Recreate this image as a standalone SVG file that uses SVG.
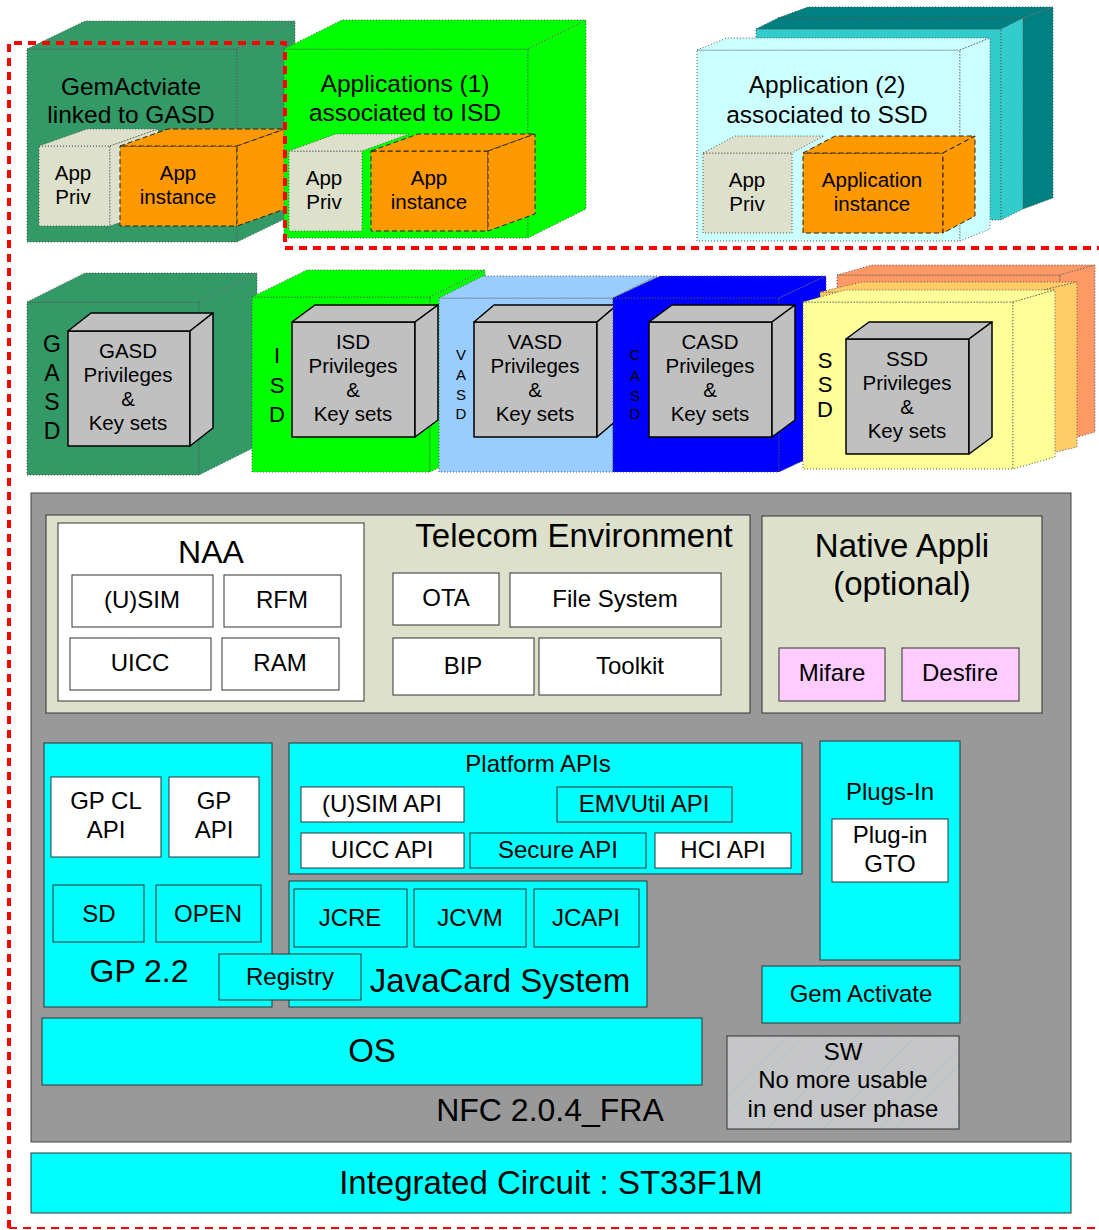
<svg xmlns="http://www.w3.org/2000/svg" width="1099" height="1230" viewBox="0 0 1099 1230">
<style>
text{font-family:"Liberation Sans",Arial,sans-serif;fill:#000;text-anchor:middle}
.dot{stroke:#555;stroke-width:1;stroke-dasharray:1,2}
.dash{stroke:#222;stroke-width:1;stroke-dasharray:5,3}
.key{fill:#C0C0C0;stroke:#000;stroke-width:1.5;stroke-linejoin:round}
.box{stroke:#333;stroke-width:1}
.t20{font-size:20.5px}
.t24{font-size:24px}
.t31{font-size:32px}
.t33{font-size:33px}
.t15{font-size:15px}
.t22{font-size:22px}
</style>
<defs>
<pattern id="hatch" width="10" height="10" patternUnits="userSpaceOnUse" patternTransform="rotate(45)">
<rect width="10" height="10" fill="#C6C6C6"/>
<line x1="0" y1="0" x2="0" y2="10" stroke="#B2C0D6" stroke-width="1.5"/>
</pattern>
</defs>
<rect width="1099" height="1230" fill="#fff"/>

<!-- ===== Top: applications ===== -->
<g id="gem-apps">
<rect x="27" y="49" width="210" height="193" fill="#339966" class="dot"/>
<polygon points="27,49 85,21 295,21 237,49" fill="#339966" class="dot"/>
<polygon points="237,49 295,21 295,214 237,242" fill="#339966" class="dot"/>
<text class="t24" x="131" y="95" style="font-size:24.5px">GemActviate</text>
<text class="t24" x="131" y="123" style="font-size:24.5px">linked to GASD</text>
</g>
<g id="gem-app-priv">
<rect x="39" y="146" width="71" height="80" fill="#DDE0CB" class="dot"/>
<polygon points="39,146 87,129 158,129 110,146" fill="#DDE0CB" class="dot"/>
<polygon points="110,146 158,129 158,209 110,226" fill="#DDE0CB" class="dot"/>
<text class="t20" x="73" y="180">App</text>
<text class="t20" x="73" y="204">Priv</text>
</g>
<g id="gem-app-instance">
<rect x="120" y="146" width="117" height="80" fill="#FF9900" class="dash"/>
<polygon points="120,146 168,129 285,129 237,146" fill="#FF9900" class="dash"/>
<polygon points="237,146 285,129 285,209 237,226" fill="#FF9900" class="dash"/>
<text class="t20" x="178" y="180">App</text>
<text class="t20" x="178" y="204">instance</text>
</g>

<g id="isd-apps">
<rect x="284" y="49" width="244" height="189" fill="#00FF00" class="dot"/>
<polygon points="284,49 342,20 586,20 528,49" fill="#00FF00" class="dot"/>
<polygon points="528,49 586,20 586,209 528,238" fill="#00FF00" class="dot"/>
<text class="t24" x="405" y="92" style="font-size:24.5px">Applications (1)</text>
<text class="t24" x="405" y="121" style="font-size:24.5px">associated to ISD</text>
</g>
<g id="isd-app-priv">
<rect x="289" y="151" width="73" height="80" fill="#DDE0CB" class="dot"/>
<polygon points="289,151 336,134 409,134 362,151" fill="#DDE0CB" class="dot"/>
<text class="t20" x="324" y="185">App</text>
<text class="t20" x="324" y="209">Priv</text>
</g>
<g id="isd-app-instance">
<rect x="371" y="151" width="117" height="80" fill="#FF9900" class="dash"/>
<polygon points="371,151 418,134 535,134 488,151" fill="#FF9900" class="dash"/>
<polygon points="488,151 535,134 535,214 488,231" fill="#FF9900" class="dash"/>
<text class="t20" x="429" y="185">App</text>
<text class="t20" x="429" y="209">instance</text>
</g>

<g id="ssd-apps">
<rect x="778" y="18" width="245" height="191" fill="#008080" class="dot"/>
<polygon points="778,18 808,7 1053,7 1023,18" fill="#008080" class="dot"/>
<polygon points="1023,18 1053,7 1053,198 1023,209" fill="#008080" class="dot"/>
<rect x="756" y="29" width="245" height="191" fill="#33CCCC" class="dot"/>
<polygon points="756,29 778,18 1023,18 1001,29" fill="#008080" class="dot"/>
<polygon points="1001,29 1023,18 1023,209 1001,220" fill="#33CCCC" class="dot"/>
<rect x="697" y="50" width="263" height="191" fill="#CCFFFF" class="dot"/>
<polygon points="697,50 727,38 990,38 960,50" fill="#CCFFFF" class="dot"/>
<polygon points="960,50 990,38 990,229 960,241" fill="#CCFFFF" class="dot"/>
<text class="t24" x="827" y="93" style="font-size:24.5px">Application (2)</text>
<text class="t24" x="827" y="123" style="font-size:24.5px">associated to SSD</text>
</g>
<g id="ssd-app-priv">
<rect x="703" y="153" width="89" height="80" fill="#DDE0CB" class="dot"/>
<polygon points="703,153 735,136 824,136 792,153" fill="#DDE0CB" class="dot"/>
<text class="t20" x="747" y="187">App</text>
<text class="t20" x="747" y="211">Priv</text>
</g>
<g id="ssd-app-instance">
<rect x="803" y="153" width="140" height="80" fill="#FF9900" class="dash"/>
<polygon points="803,153 835,136 975,136 943,153" fill="#FF9900" class="dash"/>
<polygon points="943,153 975,136 975,216 943,233" fill="#FF9900" class="dash"/>
<text class="t20" x="872" y="187">Application</text>
<text class="t20" x="872" y="211">instance</text>
</g>

<!-- ===== Security domains ===== -->
<g id="gasd">
<rect x="27" y="302" width="172" height="173" fill="#339966" class="dot"/>
<polygon points="27,302 85,273 257,273 199,302" fill="#339966" class="dot"/>
<polygon points="199,302 257,273 257,446 199,475" fill="#339966" class="dot"/>
<text class="t22" x="52" y="352" style="font-size:23px">G</text>
<text class="t22" x="52" y="381" style="font-size:23px">A</text>
<text class="t22" x="52" y="410" style="font-size:23px">S</text>
<text class="t22" x="52" y="439" style="font-size:23px">D</text>
</g>
<g id="gasd-keys">
<rect x="68" y="331" width="122" height="115" class="key"/>
<polygon points="68,331 91,313 213,313 190,331" class="key"/>
<polygon points="190,331 213,313 213,428 190,446" class="key"/>
<text class="t20" x="128" y="358">GASD</text>
<text class="t20" x="128" y="382">Privileges</text>
<text class="t20" x="128" y="406">&amp;</text>
<text class="t20" x="128" y="430">Key sets</text>
</g>

<g id="isd">
<rect x="252" y="297" width="178" height="175" fill="#00FF00" class="dot"/>
<polygon points="252,297 307,270 485,270 430,297" fill="#00FF00" class="dot"/>
<polygon points="430,297 485,270 485,445 430,472" fill="#00FF00" class="dot"/>
<text class="t22" x="277" y="363">I</text>
<text class="t22" x="277" y="393">S</text>
<text class="t22" x="277" y="422">D</text>
</g>
<g id="isd-keys">
<rect x="292" y="322" width="123" height="115" class="key"/>
<polygon points="292,322 315,305 438,305 415,322" class="key"/>
<polygon points="415,322 438,305 438,420 415,437" class="key"/>
<text class="t20" x="353" y="349">ISD</text>
<text class="t20" x="353" y="373">Privileges</text>
<text class="t20" x="353" y="397">&amp;</text>
<text class="t20" x="353" y="421">Key sets</text>
</g>

<g id="vasd">
<rect x="439" y="298" width="174" height="174" fill="#99CCFF" class="dot"/>
<polygon points="439,298 483,276 657,276 613,298" fill="#99CCFF" class="dot"/>
<polygon points="613,298 657,276 657,450 613,472" fill="#99CCFF" class="dot"/>
<text class="t15" x="461" y="360">V</text>
<text class="t15" x="461" y="380">A</text>
<text class="t15" x="461" y="400">S</text>
<text class="t15" x="461" y="419">D</text>
</g>
<g id="vasd-keys">
<rect x="474" y="322" width="123" height="115" class="key"/>
<polygon points="474,322 494,305 617,305 597,322" class="key"/>
<polygon points="597,322 617,305 617,420 597,437" class="key"/>
<text class="t20" x="535" y="349">VASD</text>
<text class="t20" x="535" y="373">Privileges</text>
<text class="t20" x="535" y="397">&amp;</text>
<text class="t20" x="535" y="421">Key sets</text>
</g>

<g id="casd">
<rect x="613" y="298" width="166" height="174" fill="#0000FF" class="dot"/>
<polygon points="613,298 660,276 826,276 779,298" fill="#0000FF" class="dot"/>
<polygon points="779,298 826,276 826,450 779,472" fill="#0000FF" class="dot"/>
<text class="t15" x="635" y="360">C</text>
<text class="t15" x="635" y="381">A</text>
<text class="t15" x="635" y="401">S</text>
<text class="t15" x="635" y="419">D</text>
</g>
<g id="casd-keys">
<rect x="649" y="322" width="123" height="115" class="key"/>
<polygon points="649,322 672,305 795,305 772,322" class="key"/>
<polygon points="772,322 795,305 795,420 772,437" class="key"/>
<text class="t20" x="710" y="349">CASD</text>
<text class="t20" x="710" y="373">Privileges</text>
<text class="t20" x="710" y="397">&amp;</text>
<text class="t20" x="710" y="421">Key sets</text>
</g>

<g id="ssd">
<rect x="837" y="275" width="223" height="167" fill="#FF9966" class="dot"/>
<polygon points="837,275 872,265 1095,265 1060,275" fill="#FF9966" class="dot"/>
<polygon points="1060,275 1095,265 1095,432 1060,442" fill="#FF9966" class="dot"/>
<rect x="820" y="292" width="215" height="165" fill="#FFCC66" class="dot"/>
<polygon points="820,292 862,282 1077,282 1035,292" fill="#FFCC66" class="dot"/>
<polygon points="1035,292 1077,282 1077,447 1035,457" fill="#FFCC66" class="dot"/>
<rect x="803" y="302" width="210" height="167" fill="#FFFF99" class="dot"/>
<polygon points="803,302 845,290 1055,290 1013,302" fill="#FFFF99" class="dot"/>
<polygon points="1013,302 1055,290 1055,457 1013,469" fill="#FFFF99" class="dot"/>
<text class="t22" x="825" y="368">S</text>
<text class="t22" x="825" y="392">S</text>
<text class="t22" x="825" y="417">D</text>
</g>
<g id="ssd-keys">
<rect x="846" y="339" width="123" height="115" class="key"/>
<polygon points="846,339 869,322 992,322 969,339" class="key"/>
<polygon points="969,339 992,322 992,437 969,454" class="key"/>
<text class="t20" x="907" y="366">SSD</text>
<text class="t20" x="907" y="390">Privileges</text>
<text class="t20" x="907" y="414">&amp;</text>
<text class="t20" x="907" y="438">Key sets</text>
</g>

<!-- ===== Platform ===== -->
<g id="nfc-platform">
<rect x="31" y="493" width="1040" height="649" fill="#999999" stroke="#444" stroke-width="1"/>
<text class="t31" x="550" y="1121">NFC 2.0.4_FRA</text>
</g>

<g id="telecom-env">
<rect x="46" y="515" width="704" height="198" fill="#DDE0CB" class="box"/>
<text class="t33" x="574" y="547">Telecom Environment</text>
</g>
<g id="naa">
<rect x="58" y="523" width="306" height="178" fill="#fff" class="box"/>
<text class="t31" x="211" y="563">NAA</text>
</g>
<g id="usim"><rect x="72" y="575" width="141" height="52" fill="#fff" class="box"/><text class="t24" x="142" y="608">(U)SIM</text></g>
<g id="rfm"><rect x="224" y="575" width="117" height="52" fill="#fff" class="box"/><text class="t24" x="282" y="608">RFM</text></g>
<g id="uicc"><rect x="70" y="638" width="141" height="52" fill="#fff" class="box"/><text class="t24" x="140" y="671">UICC</text></g>
<g id="ram"><rect x="222" y="638" width="117" height="52" fill="#fff" class="box"/><text class="t24" x="280" y="671">RAM</text></g>
<g id="ota"><rect x="393" y="573" width="106" height="52" fill="#fff" class="box"/><text class="t24" x="446" y="606">OTA</text></g>
<g id="file-system"><rect x="510" y="573" width="211" height="54" fill="#fff" class="box"/><text class="t24" x="615" y="607">File System</text></g>
<g id="bip"><rect x="393" y="638" width="141" height="57" fill="#fff" class="box"/><text class="t24" x="463" y="674">BIP</text></g>
<g id="toolkit"><rect x="539" y="638" width="182" height="57" fill="#fff" class="box"/><text class="t24" x="630" y="674">Toolkit</text></g>

<g id="native-appli">
<rect x="762" y="516" width="280" height="197" fill="#DDE0CB" class="box"/>
<text class="t33" x="902" y="557">Native Appli</text>
<text class="t33" x="902" y="595">(optional)</text>
</g>
<g id="mifare"><rect x="779" y="648" width="106" height="53" fill="#FFCCFF" class="box"/><text class="t24" x="832" y="681">Mifare</text></g>
<g id="desfire"><rect x="902" y="648" width="117" height="53" fill="#FFCCFF" class="box"/><text class="t24" x="960" y="681">Desfire</text></g>

<g id="gp22">
<rect x="44" y="743" width="228" height="264" fill="#00FFFF" class="box"/>
<text class="t31" x="139" y="982">GP 2.2</text>
</g>
<g id="gp-cl-api"><rect x="51" y="777" width="110" height="80" fill="#fff" class="box"/><text class="t24" x="106" y="809">GP CL</text><text class="t24" x="106" y="838">API</text></g>
<g id="gp-api"><rect x="169" y="777" width="90" height="80" fill="#fff" class="box"/><text class="t24" x="214" y="809">GP</text><text class="t24" x="214" y="838">API</text></g>
<g id="sd"><rect x="53" y="885" width="91" height="57" fill="#00FFFF" class="box"/><text class="t24" x="99" y="922">SD</text></g>
<g id="open"><rect x="156" y="885" width="105" height="57" fill="#00FFFF" class="box"/><text class="t24" x="208" y="922">OPEN</text></g>

<g id="platform-apis">
<rect x="289" y="743" width="513" height="131" fill="#00FFFF" class="box"/>
<text class="t24" x="538" y="772">Platform APIs</text>
</g>
<g id="usim-api"><rect x="301" y="787" width="163" height="35" fill="#fff" class="box"/><text class="t24" x="382" y="812">(U)SIM API</text></g>
<g id="emvutil-api"><rect x="557" y="787" width="175" height="35" fill="#00FFFF" class="box"/><text class="t24" x="644" y="812">EMVUtil API</text></g>
<g id="uicc-api"><rect x="301" y="833" width="163" height="35" fill="#fff" class="box"/><text class="t24" x="382" y="858">UICC API</text></g>
<g id="secure-api"><rect x="470" y="833" width="176" height="35" fill="#00FFFF" class="box"/><text class="t24" x="558" y="858">Secure API</text></g>
<g id="hci-api"><rect x="655" y="833" width="136" height="35" fill="#fff" class="box"/><text class="t24" x="723" y="858">HCI API</text></g>

<g id="javacard-system">
<rect x="289" y="881" width="358" height="126" fill="#00FFFF" class="box"/>
<text class="t33" x="500" y="992">JavaCard System</text>
</g>
<g id="jcre"><rect x="294" y="889" width="113" height="58" fill="#00FFFF" class="box"/><text class="t24" x="350" y="926">JCRE</text></g>
<g id="jcvm"><rect x="414" y="889" width="112" height="58" fill="#00FFFF" class="box"/><text class="t24" x="470" y="926">JCVM</text></g>
<g id="jcapi"><rect x="534" y="889" width="105" height="58" fill="#00FFFF" class="box"/><text class="t24" x="586" y="926">JCAPI</text></g>
<g id="registry"><rect x="219" y="954" width="142" height="46" fill="#00FFFF" class="box"/><text class="t24" x="290" y="985">Registry</text></g>

<g id="plugs-in">
<rect x="820" y="741" width="140" height="219" fill="#00FFFF" class="box"/>
<text class="t24" x="890" y="800">Plugs-In</text>
</g>
<g id="plugin-gto"><rect x="832" y="819" width="116" height="63" fill="#fff" class="box"/><text class="t24" x="890" y="843">Plug-in</text><text class="t24" x="890" y="872">GTO</text></g>
<g id="gem-activate"><rect x="762" y="966" width="198" height="57" fill="#00FFFF" class="box"/><text class="t24" x="861" y="1002">Gem Activate</text></g>

<g id="os"><rect x="42" y="1018" width="660" height="67" fill="#00FFFF" class="box"/><text class="t33" x="372" y="1062">OS</text></g>

<g id="sw">
<rect x="727" y="1036" width="232" height="93" fill="url(#hatch)" class="box"/>
<text class="t24" x="843" y="1060">SW</text>
<text class="t24" x="843" y="1088">No more usable</text>
<text class="t24" x="843" y="1117">in end user phase</text>
</g>

<g id="integrated-circuit">
<rect x="31" y="1153" width="1040" height="60" fill="#00FFFF" class="box"/>
<text class="t33" x="551" y="1194">Integrated Circuit : ST33F1M</text>
</g>

<g id="connectors">
<polyline points="9,1228 9,43 285,43 285,248 1099,248" fill="none" stroke="#FF0000" stroke-width="4" stroke-dasharray="8,6"/>
<line x1="9" y1="1228" x2="1099" y2="1228" stroke="#FF0000" stroke-width="2" stroke-dasharray="8,6"/>
</g>
</svg>
